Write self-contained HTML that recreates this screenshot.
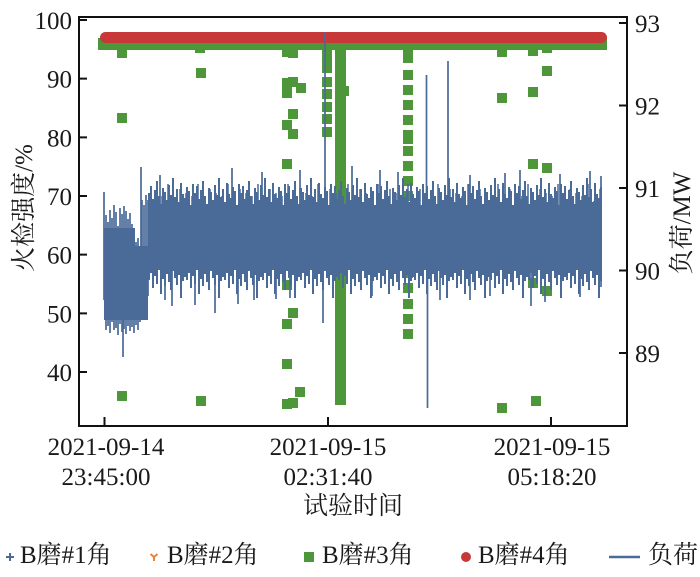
<!DOCTYPE html>
<html>
<head>
<meta charset="utf-8">
<style>
html,body{margin:0;padding:0;background:#fff;}
body{width:700px;height:577px;overflow:hidden;}
svg{display:block;}
text{font-family:"Liberation Serif","Noto Serif CJK SC",serif;fill:#1a1a1a;}
</style>
</head>
<body>
<svg width="700" height="577" viewBox="0 0 700 577" xmlns="http://www.w3.org/2000/svg">
<defs>
<pattern id="tp" patternUnits="userSpaceOnUse" x="148" y="0" width="46" height="577">
<path stroke="#4a6a98" stroke-width="2" fill="none" d="M1 193V218M3 186V218M5 199V218M7 190V218M9 181V218M11 196V218M13 204V218M15 188V218M17 192V218M19 200V218M21 185V218M23 195V218M25 178V218M27 197V218M29 189V218M31 202V218M33 183V218M35 194V218M37 198V218M39 187V218M41 191V218M43 205V218M45 184V218"/>
</pattern>
<pattern id="tq" patternUnits="userSpaceOnUse" x="160" y="0" width="30" height="577">
<path stroke="#4a6a98" stroke-width="1.5" fill="none" d="M2 196V218M8 184V218M14 201V218M20 189V218M26 193V218"/>
</pattern>
<pattern id="bp" patternUnits="userSpaceOnUse" x="148" y="0" width="38" height="577">
<path stroke="#4a6a98" stroke-width="2" fill="none" d="M1 256V280M3 256V273M5 256V288M7 256V276M9 256V284M11 256V270M13 256V294M15 256V279M17 256V286M19 256V274M21 256V282M23 256V290M25 256V271M27 256V278M29 256V285M31 256V275M33 256V298M35 256V281M37 256V277"/>
</pattern>
</defs>
<rect x="0" y="0" width="700" height="577" fill="#fff"/>

<g fill="#4d9639">
<rect x="98" y="38" width="509" height="12"/>
<rect x="322" y="45" width="10" height="28"/>
<rect x="335" y="45" width="11" height="360"/>
<rect x="340" y="86" width="9" height="10"/>
<rect x="403" y="45" width="10" height="18"/>
<rect x="403" y="130" width="10" height="14"/>
<path d="M322 77h10v10h-10zM322 89h10v10h-10zM322 102h10v10h-10zM322 114h10v10h-10zM322 127h10v10h-10z
M403 70h10v10h-10zM403 85h10v10h-10zM403 100h10v10h-10zM403 115h10v10h-10zM403 146h10v10h-10zM403 161h10v10h-10z
M403 176h10v10h-10zM403 191h10v10h-10zM403 207h10v10h-10zM403 222h10v10h-10zM403 238h10v10h-10zM403 253h10v10h-10z
M403 268h10v10h-10zM403 283h10v10h-10zM403 299h10v10h-10zM403 314h10v10h-10zM403 329h10v10h-10z
M117 48h10v10h-10zM117 113h10v10h-10zM117 391h10v10h-10zM195 43h10v10h-10zM196 68h10v10h-10zM196 396h10v10h-10z
M282 47h10v10h-10zM288 48h10v10h-10zM282 78h10v10h-10zM288 77h10v10h-10zM296 83h10v10h-10zM282 88h10v10h-10z
M288 109h10v10h-10zM282 120h10v10h-10zM288 129h10v10h-10zM282 159h10v10h-10zM282 280h10v10h-10zM288 308h10v10h-10z
M282 319h10v10h-10zM282 359h10v10h-10zM295 387h10v10h-10zM282 399h10v10h-10zM288 398h10v10h-10z
M497 47h10v10h-10zM528 46h10v10h-10zM542 43h10v10h-10zM542 66h10v10h-10zM528 87h10v10h-10zM497 93h10v10h-10z
M528 159h10v10h-10zM542 163h10v10h-10zM528 278h10v10h-10zM542 286h10v10h-10zM497 403h10v10h-10zM531 396h10v10h-10z"/>
</g>

<line x1="105.5" y1="37.5" x2="601.5" y2="37.5" stroke="#c83838" stroke-width="11" stroke-linecap="round"/>

<g fill="#4a6a98">
<polygon points="104,228 135,228 135,246 148,246 148,320 104,320"/>
<rect x="148" y="212" width="454" height="48"/>
</g>
<rect x="148" y="165" width="454" height="55" fill="url(#tp)"/>
<rect x="160" y="180" width="440" height="40" fill="url(#tq)"/>
<rect x="148" y="254" width="454" height="48" fill="url(#bp)"/>
<path fill="none" stroke="#4a6a98" stroke-width="1.7" d="M104 192V300M106 215V330M108 222V326M110 210V333M112 218V322M114 205V330M116 212V328M118 226V335M120 208V324M122 214V332M123 240V357M124 206V329M126 211V334M128 219V326M130 213V331M132 224V327M134 230V333M136 242V325M138 238V330M140 248V322M141 167V260M142 200V318M144 205V300M146 195V310M148 200V296M160 175V230M232 168V230M262 172V230M300 170V230M352 166V230M380 170V230M398 172V230M470 175V230M505 173V230M520 170V230M560 174V230M590 171V230M601 176V287M165 250V300M195 250V305M215 250V313M290 250V298M372 250V296M440 250V300M490 250V296M545 250V302M580 250V297M172 250V306M238 250V304M276 250V299M325 32V230M323 250V323M254 250V300M426.5 75V230M427.5 250V408M448 61V230M470 250V300M531 250V306"/>

<rect x="79" y="17" width="548" height="409" fill="none" stroke="#111" stroke-width="2"/>
<path stroke="#111" stroke-width="2" fill="none" d="M79 20H87M79 78.67H87M79 137.33H87M79 196H87M79 254.67H87M79 313.33H87M79 372H87M619 23H627M619 105.5H627M619 188H627M619 270.5H627M619 353H627M104.5 426V417M328 426V417M551 426V417"/>

<g font-size="25" text-anchor="end">
<text x="72" y="29">100</text>
<text x="72" y="87.7">90</text>
<text x="72" y="146.3">80</text>
<text x="72" y="205">70</text>
<text x="72" y="263.7">60</text>
<text x="72" y="322.3">50</text>
<text x="72" y="381">40</text>
</g>
<g font-size="25">
<text x="635" y="32">93</text>
<text x="635" y="114.5">92</text>
<text x="635" y="197">91</text>
<text x="635" y="279.5">90</text>
<text x="635" y="362">89</text>
</g>
<g font-size="25" text-anchor="middle">
<text x="106" y="455">2021-09-14</text>
<text x="106" y="485">23:45:00</text>
<text x="328" y="455">2021-09-15</text>
<text x="328" y="485">02:31:40</text>
<text x="552" y="455">2021-09-15</text>
<text x="552" y="485">05:18:20</text>
</g>

<text x="353" y="514" font-size="25" text-anchor="middle">试验时间</text>
<text transform="translate(32,208) rotate(-90)" font-size="25" text-anchor="middle">火检强度/%</text>
<text transform="translate(690,223) rotate(-90)" font-size="25" text-anchor="middle">负荷/MW</text>

<path stroke="#4a6a98" stroke-width="2" fill="none" d="M6 557H14M10 553V561"/>
<text x="20" y="563" font-size="25">B磨#1角</text>
<path stroke="#e8843c" stroke-width="2" fill="none" d="M154 557V561M154 557L150.5 554M154 557L157.5 554"/>
<text x="167" y="563" font-size="25">B磨#2角</text>
<rect x="304" y="552" width="10" height="10" fill="#4d9639"/>
<text x="322" y="563" font-size="25">B磨#3角</text>
<circle cx="466" cy="557" r="5" fill="#c83838"/>
<text x="478" y="563" font-size="25">B磨#4角</text>
<line x1="609" y1="557" x2="640" y2="557" stroke="#4a6a98" stroke-width="2.5"/>
<text x="648" y="563" font-size="25">负荷</text>
</svg>
</body>
</html>
